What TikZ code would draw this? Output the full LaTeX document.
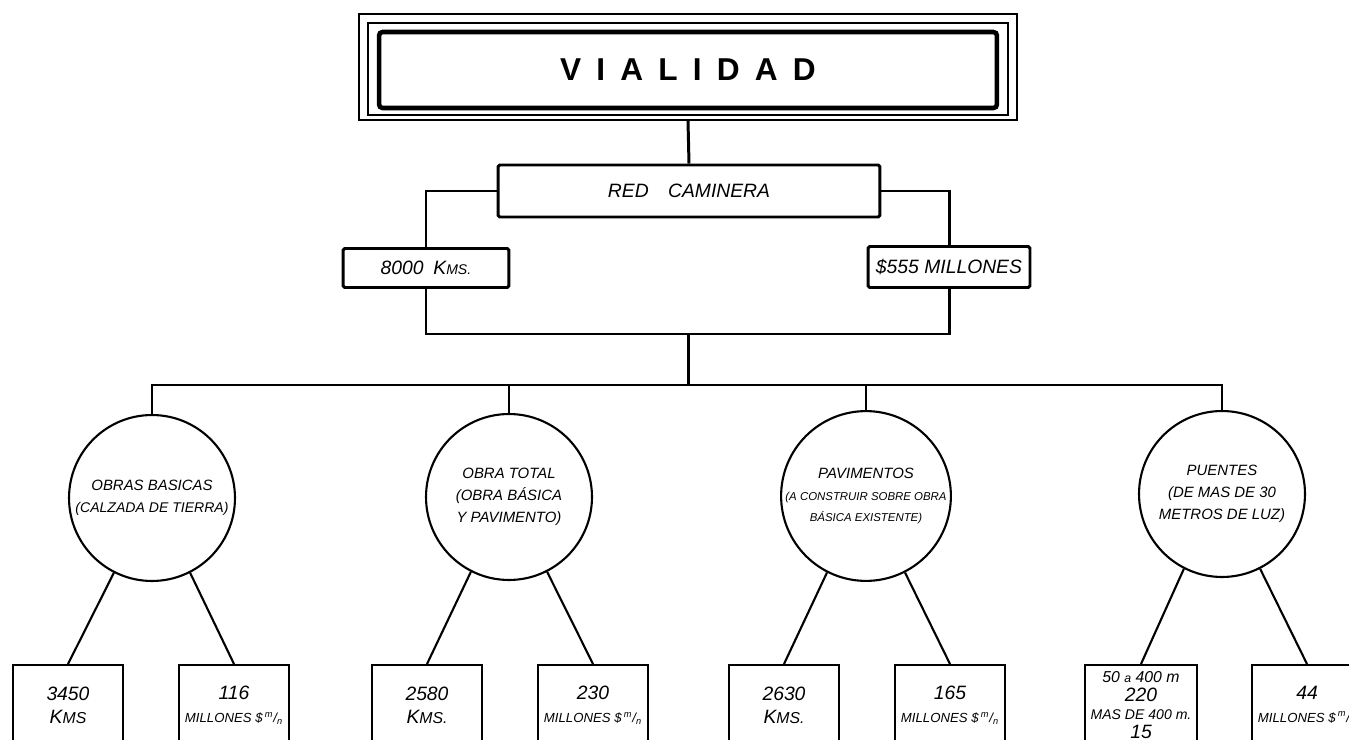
\documentclass[tikz,border=0pt]{standalone}
\usepackage{fontspec}
\setmainfont{Liberation Sans}
\newfontfamily\rotulo[LetterSpace=48]{Liberation Sans}
\usetikzlibrary{positioning}
\usetikzlibrary{calc}

\newcommand{\millones}{{\fontsize{7.5}{13}\selectfont MILLONES \$\,\textsuperscript{m}/\textsubscript{n}}}

\begin{document}
\begin{tikzpicture}[x=0.02cm, y=-0.02cm,
    marco/.style={draw, line width=1.1pt, inner sep=0pt},
    linea/.style={line width=1.7pt},
    fina/.style={line width=1.2pt},
    caja/.style={draw, line width=1.7pt, rounded corners=1pt, inner sep=2pt, font=\itshape\fontsize{11}{13}\selectfont},
    bola/.style={draw, circle, line width=1.2pt, minimum size=3.32cm, inner sep=0pt, align=center, font=\itshape\fontsize{8.5}{12.5}\selectfont},
    dato/.style={draw, line width=1.2pt, minimum width=2.2cm, minimum height=1.6cm, anchor=north, align=center, font=\itshape\fontsize{11}{13}\selectfont}]

    \useasboundingbox (0,0) rectangle (1349,740);
    \clip (0,0) rectangle (1349,740);

    % titulo con marco triple
    \node [marco, minimum width=13.16cm, minimum height=2.12cm] (marco1) at (688,67) {};
    \node [marco, minimum width=12.8cm, minimum height=1.84cm] (marco2) at (688,69) {};
    \node [draw, line width=2.6pt, rounded corners=2pt, minimum width=12.36cm, minimum height=1.52cm,
           font=\rotulo\bfseries\fontsize{18}{20}\selectfont] (vialidad) at (688,70) {VIALIDAD};

    \node [caja, minimum width=7.64cm, minimum height=1.04cm] (red) at (689,191) {RED\quad CAMINERA};
    \node [caja, minimum width=3.32cm, minimum height=0.78cm] (kms) at (426,268) {8000\enspace K{\footnotesize MS.}};
    \node [caja, minimum width=3.24cm, minimum height=0.82cm] (pesos) at (949,267) {\$555 MILLONES};

    \coordinate (union) at (688,334);
    \coordinate (reparto) at (688,385);

    \draw [linea] (marco1.south) -- (red.north);
    \draw [linea] (red.west) -| (kms.north);
    \draw [linea] (red.east) -| (pesos.north);
    \draw [linea] (kms.south) |- (union) -| (pesos.south);
    \draw [linea] (union) -- (reparto);

    % rubros
    \node [bola] (basicas) at (152,498) {OBRAS BASICAS\\{\fontsize{8}{12}\selectfont(CALZADA DE TIERRA)}};
    \node [bola] (total) at (509,497) {OBRA TOTAL\\(OBRA BÁSICA\\Y PAVIMENTO)};
    \node [bola, font=\itshape\fontsize{6.5}{12}\selectfont] (pavim) at (866,496) {{\fontsize{8.5}{12}\selectfont PAVIMENTOS}\\(A CONSTRUIR SOBRE OBRA\\BÁSICA EXISTENTE)};
    \node [bola] (puentes) at (1222,494) {PUENTES\\(DE MAS DE 30\\METROS DE LUZ)};

    % cantidades
    \node [dato] (b1) at (68,664) {3450\\K{\small MS}};
    \node [dato] (b2) at (234,664) {116\\\millones};
    \node [dato] (b3) at (427,664) {2580\\K{\small MS.}};
    \node [dato] (b4) at (593,664) {230\\\millones};
    \node [dato] (b5) at (784,664) {2630\\K{\small MS.}};
    \node [dato] (b6) at (950,664) {165\\\millones};
    \node [dato, font=\itshape\fontsize{8}{10.5}\selectfont] (b7) at (1141,664)
        {{\fontsize{9}{10.5}\selectfont 50 {\scriptsize a} 400 m}\\{\fontsize{11}{10.5}\selectfont 220}\\MAS DE 400 m.\\{\fontsize{11}{10.5}\selectfont 15}};
    \node [dato] (b8) at (1307,664) {44\\\millones};

    \foreach \c/\i/\d in {basicas/b1/b2, total/b3/b4, pavim/b5/b6, puentes/b7/b8} {
        \draw [fina] (reparto) -| (\c.north);
        \draw [fina] (\c.-117) -- (\i.north);
        \draw [fina] (\c.-63) -- (\d.north);
    }
\end{tikzpicture}
\end{document}
